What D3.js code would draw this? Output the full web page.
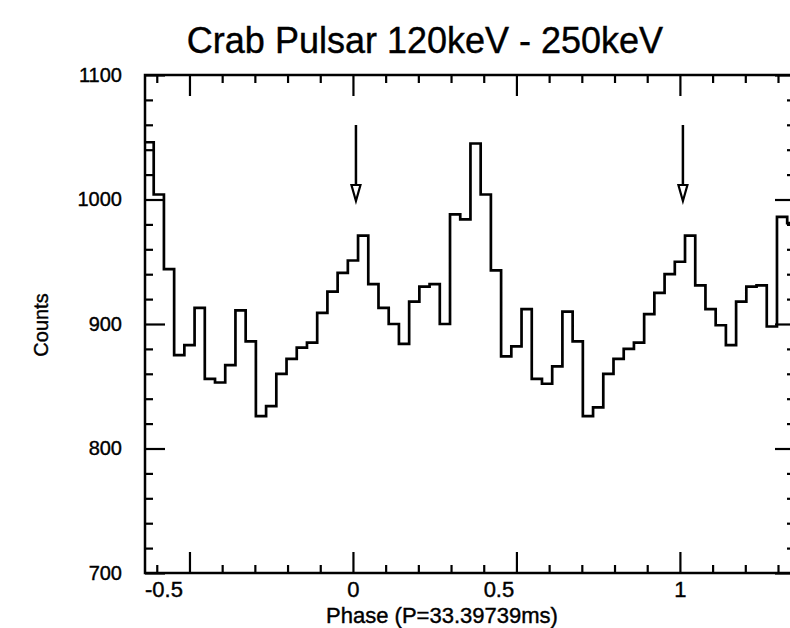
<!DOCTYPE html>
<html><head><meta charset="utf-8">
<script src="https://cdn.jsdelivr.net/npm/d3@7"></script>
<style>
body{margin:0;background:#fff}
svg{display:block}
text{font-family:"Liberation Sans",Arial,Helvetica,sans-serif;fill:#000;stroke:#000;stroke-width:0.4px}
</style>
</head><body>
<svg id="chart" width="790" height="628"></svg>
<script>
// ---- data ----
const chartTitle = "Crab Pulsar 120keV - 250keV";
const xTitle = "Phase (P=33.39739ms)";
const yTitle = "Counts";
const binsPerCycle = 32;          // phase bins per pulse period
const firstBinIndex = -20;        // first plotted bin is centred at -20/32
const counts = [1046,1004,944,875,883,913,856,853,867,911,
                886,826,834,860,872,881,885,909,926,941,
                951,971,932,913,900,884,918,930,932,900,
                988,984,1045,1004,943,874,882,912,856,852,
                866,910,886,826,833,860,872,880,885,908,
                925,940,950,971,931,912,899,883,918,930,
                931,898,986,981];
const xMajorTicks = [-0.5, 0, 0.5, 1];
const xTickLabels = ["-0.5", "0", "0.5", "1"];
const xMinorTicks = [-0.6,-0.4,-0.3,-0.2,-0.1,0.1,0.2,0.3,0.4,0.6,0.7,0.8,0.9,1.1,1.2,1.3];
const yMajorTicks = [700, 800, 900, 1000, 1100];
const yTickLabels = ["700", "800", "900", "1000", "1100"];
const yMinorTicks = [720,740,760,780,820,840,860,880,920,940,960,980,1020,1040,1060,1080];
const arrowPhases = [0, 1];
const xDomain = [-0.636, 1.352];
const yDomain = [700, 1100];

// ---- layout ----
const L = 145, R = 795, T = 75, B = 573;
const svg = d3.select("#chart");
const x = d3.scaleLinear().domain(xDomain).range([L, R]);
const y = d3.scaleLinear().domain(yDomain).range([B, T]);

svg.append("defs").append("clipPath").attr("id","clip")
  .append("rect").attr("x",L).attr("y",T).attr("width",R-L).attr("height",B-T);

// histogram steps
const pts = [];
counts.forEach((v,i)=>{
  const c = (firstBinIndex + i) / binsPerCycle;
  const h = 0.5 / binsPerCycle;
  pts.push([c - h, v]); pts.push([c + h, v]);
});
svg.append("path")
  .attr("clip-path","url(#clip)")
  .attr("d", d3.line().x(d=>x(d[0])).y(d=>y(d[1]))(pts))
  .attr("fill","none").attr("stroke","#000").attr("stroke-width",2.7)
  .attr("stroke-linejoin","miter");

// axes
function styleAxis(g){
  g.select(".domain").remove();
  g.selectAll(".tick line").attr("stroke","#000").attr("stroke-width",2.2);
}
const labelShift = d => d === -0.5 ? -26 : (d === 0.5 ? -18 : 0);
svg.append("g").attr("transform",`translate(0,${B})`)
  .call(d3.axisBottom(x).tickValues(xMinorTicks).tickSize(-8).tickFormat(""))
  .call(styleAxis);
const xb = svg.append("g").attr("transform",`translate(0,${B})`)
  .call(d3.axisBottom(x).tickValues(xMajorTicks).tickSize(-21).tickPadding(8)
        .tickFormat((d,i)=>xTickLabels[i]))
  .call(styleAxis);
xb.selectAll("text").attr("font-size",22).attr("dx",d=>labelShift(d)).attr("fill","#000");

svg.append("g").attr("transform",`translate(0,${T})`)
  .call(d3.axisTop(x).tickValues(xMinorTicks).tickSize(-8).tickFormat(""))
  .call(styleAxis);
svg.append("g").attr("transform",`translate(0,${T})`)
  .call(d3.axisTop(x).tickValues(xMajorTicks).tickSize(-21).tickFormat(""))
  .call(styleAxis);

svg.append("g").attr("transform",`translate(${L},0)`)
  .call(d3.axisLeft(y).tickValues(yMinorTicks).tickSize(-8).tickFormat(""))
  .call(styleAxis);
const yl = svg.append("g").attr("transform",`translate(${L},0)`)
  .call(d3.axisLeft(y).tickValues(yMajorTicks).tickSize(-20).tickPadding(23)
        .tickFormat((d,i)=>yTickLabels[i]))
  .call(styleAxis);
yl.selectAll("text").attr("font-size",20).attr("fill","#000");

svg.append("g").attr("transform",`translate(${R},0)`)
  .call(d3.axisRight(y).tickValues(yMinorTicks).tickSize(-8).tickFormat(""))
  .call(styleAxis);
svg.append("g").attr("transform",`translate(${R},0)`)
  .call(d3.axisRight(y).tickValues(yMajorTicks).tickSize(-20).tickFormat(""))
  .call(styleAxis);

// frame
svg.append("rect").attr("x",L).attr("y",T).attr("width",R-L).attr("height",B-T)
  .attr("fill","none").attr("stroke","#000").attr("stroke-width",2.5);

// arrows
const ag = svg.append("g");
arrowPhases.forEach(p=>{
  const ax = x(p) + 3;
  ag.append("line").attr("x1",ax).attr("x2",ax).attr("y1",125).attr("y2",186)
    .attr("stroke","#000").attr("stroke-width",2.5);
  ag.append("path").attr("d",`M${ax-4.5},185L${ax+4.5},185L${ax},201Z`)
    .attr("fill","#fff").attr("stroke","#000").attr("stroke-width",2.2);
});

// titles
svg.append("text").attr("x",425).attr("y",53).attr("text-anchor","middle")
  .attr("font-size",36).text(chartTitle);
svg.append("text").attr("x",442).attr("y",623).attr("text-anchor","middle")
  .attr("font-size",22).text(xTitle);
svg.append("text").attr("transform","translate(48,325) rotate(-90)")
  .attr("text-anchor","middle").attr("font-size",20).text(yTitle);
</script>
</body></html>
